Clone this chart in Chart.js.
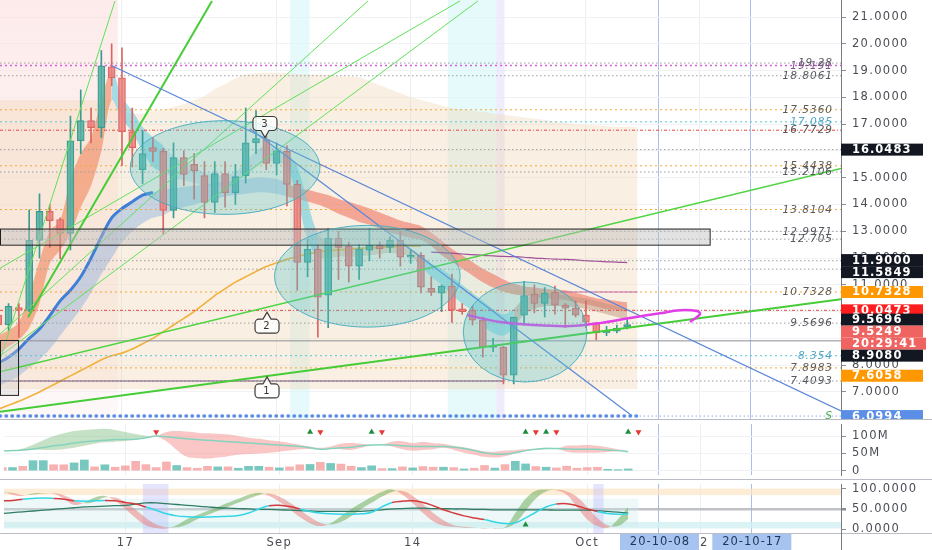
<!DOCTYPE html>
<html>
<head>
<meta charset="utf-8">
<title>chart</title>
<script src="https://cdn.jsdelivr.net/npm/chart.js@4.4.1/dist/chart.umd.min.js"></script>
<style>
  html, body { margin: 0; padding: 0; background: #fff; }
  #wrap { position: relative; width: 932px; height: 550px; overflow: hidden; background: #fff; }
  canvas { position: absolute; left: 0; }
  .hl { position: absolute; left: 0; width: 932px; height: 1px; background: #b9bcc4; }
  .vl { position: absolute; left: 841px; width: 1px; background: #787b86; }
</style>
</head>
<body>
<div id="wrap">
  <canvas id="main" width="932" height="419" style="top:0"></canvas>
  <canvas id="vol" width="932" height="59" style="top:420px"></canvas>
  <canvas id="osc" width="932" height="70" style="top:480px"></canvas>
  <div class="hl" style="top:419px"></div>
  <div class="hl" style="top:479px"></div>
  <div class="hl" style="top:533px"></div>
  <div class="vl" style="top:533px;height:17px"></div>
</div>
<script>
// ---------- data (one candle per day, index 0 = Aug 5) ----------
const opens  = [9.87,9.5,10.15,10.05,12.66,13.74,13.44,12.92,16.38,17.13, 16.87,19.14,18.73,16.72,15.3,16.12,15.98,13.78,15.75,15.5, 15.08,14.08,15.15,14.44,15.08,16.3,16.42,15.53,15.98,14.75, 11.84,12.33,10.61,12.74,12.44,11.7,12.29,12.47,12.4,12.66, 12.03,12.1,10.87,10.69,10.95,10.1,10.05,9.68,8.66,8.68, 7.63,9.87,10.65,10.31,10.72,10.24,10.13,9.87,9.57,9.2, 9.27,9.42];
const highs  = [10.0,10.3,10.3,13.8,14.4,14.0,13.5,17.3,18.28,17.6, 19.75,20.0,19.85,17.6,16.76,16.5,16.1,16.3,16.0,15.9, 15.6,15.6,15.6,15.5,17.6,17.5,16.6,16.3,16.2,14.9, 12.7,12.5,13.1,13.0,12.6,12.5,13.1,12.6,12.8,13.0, 12.3,12.2,11.3,11.0,11.4,10.3,10.2,9.8,9.0,8.7, 9.8,11.13,11.0,10.9,10.95,10.3,10.4,10.4,9.6,9.45, 9.5,9.7];
const lows   = [9.3,9.3,9.05,10.0,12.0,12.4,11.98,12.3,15.9,16.3, 16.5,18.43,15.45,15.4,14.78,15.6,12.9,13.5,14.7,14.2, 13.5,13.7,13.9,14.0,14.8,15.9,15.3,15.1,13.95,10.8, 11.3,9.05,9.4,11.2,11.1,11.2,11.9,12.0,12.2,11.7, 11.8,10.7,10.6,10.0,9.6,9.9,9.5,8.3,8.5,7.3, 7.3,9.5,9.95,9.8,9.9,9.4,9.8,9.4,8.95,9.1, 9.2,9.35];
const closes = [9.5,10.2,10.05,12.66,13.74,13.4,12.92,16.38,17.13,16.87, 19.18,18.73,16.72,16.12,15.9,15.98,13.78,15.75,15.12,15.25, 14.08,15.15,14.44,15.04,16.3,16.46,15.53,16.0,14.75,11.84, 12.33,10.54,12.74,12.4,11.7,12.33,12.47,12.35,12.66,12.03, 12.1,10.91,10.72,10.95,10.05,10.0,9.68,8.68,8.7,7.63, 9.79,10.6,10.31,10.69,10.24,10.13,9.87,9.61,9.2,9.27, 9.38,9.52];

// moving average ribbons (price)
const slowUpper = [8.08,8.3,8.6,9.0,9.35,9.85,10.4,10.8,11.3,12.0, 12.8,13.5,13.85,14.1,14.35,14.45,14.55,14.6,14.65,14.7, 14.75,14.8,14.85,14.9,14.95,15.0,15.0,14.95,14.8,14.6, 14.55,14.45,14.35,14.2,14.1,13.98,13.85,13.7,13.55,13.4, 13.3,13.2,12.95,12.65,12.35,12.1,11.85,11.6,11.4,11.2, 11.05,10.95,10.9,10.85,10.82,10.8,10.7,10.6,10.5,10.45, 10.4,10.35];
const slowLower = [7.2,7.4,7.6,7.9,8.2,8.6,9.1,9.6,10.1,10.7, 11.4,12.0,12.6,13.0,13.3,13.5,13.6,13.8,13.9,14.0, 14.1,14.2,14.3,14.35,14.4,14.45,14.45,14.4,14.3,14.2, 14.1,14.0,13.85,13.65,13.5,13.35,13.25,13.1,12.95,12.85, 12.75,12.68,12.45,12.1,11.85,11.6,11.35,11.1,10.9,10.75, 10.65,10.6,10.55,10.5,10.47,10.43,10.35,10.27,10.18,10.1, 10.05,10.0];
const fastUpper = [9.1,9.3,9.6,10.6,11.9,13.0,13.4,14.9,15.9,16.5, 17.9,19.0,18.0,17.5,16.9,16.5,16.2,15.8,15.6,15.4, 15.2,15.1,15.1,15.2,15.6,16.0,16.2,16.1,15.9,15.4, 14.1,12.9,12.6,12.5,12.45,12.4,12.45,12.45,12.5,12.45, 12.35,12.1,11.8,11.6,11.3,11.0,10.7,10.4,10.1,9.9, 10.1,10.5,10.6,10.65,10.65,10.6,10.55,10.5,10.4,10.3, 10.2,10.1];
const fastLower = [8.4,8.7,8.95,9.4,10.3,11.8,12.3,12.9,13.9,14.7, 16.0,17.9,17.2,16.7,16.0,15.4,15.2,15.0,14.9,14.8, 14.7,14.7,14.7,14.8,15.0,15.4,15.6,15.6,15.4,14.2, 12.7,12.0,12.0,12.05,12.05,12.05,12.1,12.15,12.2,12.15, 12.05,11.7,11.3,11.0,10.6,10.3,10.0,9.5,9.2,9.1, 9.4,9.9,10.1,10.2,10.2,10.2,10.15,10.1,10.0,9.9, 9.8,9.7];
const orangeMA = [6.35,6.5,6.65,6.82,7.0,7.2,7.4,7.6,7.8,8.0, 8.2,8.35,8.45,8.6,8.8,9.0,9.25,9.5,9.75,10.0, 10.3,10.6,10.85,11.1,11.3,11.5,11.68,11.82,11.95,12.05, 12.15,12.22,12.28,12.3,12.33,12.36,12.38,12.4,12.42,12.44, 12.45,12.45];
const purpleStart = 42;
const purpleMA = [12.22,12.2,12.18,12.15,12.13,12.1,12.08,12.06,12.05,12.03, 12.0,11.98,11.96,11.95,11.93,11.9,11.88,11.86,11.85,11.83];
const beigeTop = [17.9,17.9,17.9,17.9,17.9,17.9,17.9,17.9,17.9,17.9, 17.9,17.9,17.5,17.4,17.4,17.5,17.55,17.65,17.75,17.9, 18.05,18.3,18.5,18.7,18.85,18.9,18.92,18.92,18.9,18.88, 18.86,18.85,18.83,18.8,18.78,18.75,18.6,18.45,18.3,18.15, 18.0,17.9,17.8,17.7,17.6,17.55,17.5,17.45,17.4,17.35, 17.3,17.25,17.2,17.15,17.1,17.05,17.0,16.98,16.95,16.93, 16.9,16.9,16.88];

// horizontal levels
const levelValues = [19.28, 19.191, 18.8061, 17.536, 17.085, 16.7729, 16.0483, 15.4438, 15.2106, 13.8104, 12.9971, 12.705, 11.9, 11.5849, 10.7328, 10.0473, 9.5696, 8.354, 7.8983, 7.4093];
const levelTexts  = ['19.28', '19.191', '18.8061', '17.5360', '17.085', '16.7729', '', '15.4438', '15.2106', '13.8104', '12.9971', '12.705', '', '', '10.7328', '', '9.5696', '8.354', '7.8983', '7.4093'];
const levelKinds  = ['g', 'm', 'g', 'o', 'c', 'r', 'g', 'o', 'g', 'o', 'g', 'g', 'g', 'g', 'o', 'r', 'g', 'c', 'o', 'g'];
const supportLevel = 6.0994;
const pivotLevel = 8.908;

// price labels on the axis
const axisValues = [16.0483, 11.9, 11.5849, 10.7328, 10.0473, 9.5696, 9.5249, 8.908, 7.6058, 6.0994];
const axisKinds  = ['k', 'k', 'k', 'o', 'r', 'k', 'p', 'k', 'o', 'b'];
const countdownText = '20:29:41';

// drawings: trend lines [day0, price0, day1, price1]
const blueTrends  = [[11.03, 19.18, 81.74, 6.29], [24.42, 16.83, 61.47, 6.11]];
const greenThick  = [[0.17, 6.26, 81.74, 10.46], [2.89, 9.79, 20.73, 21.6]];
const greenMid    = [[0.17, 7.75, 81.74, 15.34]];
const greenThin   = [[0.17, 8.19, 11.32, 21.6], [0.17, 9.16, 35.86, 21.6], [0.17, 11.62, 44.79, 21.6], [0.17, 8.34, 46.53, 21.6]];
const magentaX = [45.47, 48.67, 51.87, 55.46, 58.37, 61.28, 64.19, 66.13, 67.77, 68.07, 67.1];
const magentaY = [9.87, 9.61, 9.50, 9.46, 9.57, 9.76, 9.94, 10.05, 10.02, 9.91, 9.61];
const zoneX  = [22.0, 35.8, 51.1];
const zoneY  = [15.38, 11.32, 9.24];
const zoneRX = [9.2, 9.0, 6.0];
const zoneRY = [1.75, 1.9, 1.87];
const boxes = [[0.17, 12.5, 69.0, 13.1], [0.17, 6.89, 1.92, 8.94]];
const calloutX = [25.87, 26.07, 26.07];
const calloutY = [16.5, 9.98, 7.56];
const calloutText = ['3', '2', '1'];
const calloutDown = [true, false, false];

// volume pane (millions)
const volumes = [9,9,12.5,29,29,17,17,22.5,31,11, 17,10,14,27,17.5,9,25,15,9,7, 12.5,11,11,7,12.5,12.5,10,8,11,17, 18,24,21,19,13,9,14,6,6,11, 8,12,10,10,9,5,7,15,7.5,17.5, 27,19.5,12,10,8,13,7,9,10,4, 3,5];
const volRise = [0,1,0,1,1,0,0,1,1,0, 1,0,0,0,0,0,0,1,0,0, 0,1,0,1,1,1,0,1,0,0, 1,0,1,0,0,1,1,0,1,0, 1,0,0,1,0,1,0,0,1,0, 1,1,0,1,0,0,0,0,0,1, 1,1];
const cloudA = [57,58,64,75,88,100,108,115,118,120, 121,118,112,106,101,99,85,60,40,36, 35,38,42,46,48,50,52,55,58,62, 63,62,64,62,60,66,74,75,70,62, 58,60,62,66,60,52,46,40,38,42, 50,56,63,66,64,55,52,52,52,54, 56,55];
const cloudB = [57,58,58,60,60,60,62,66,72,78, 82,84,86,90,96,100,112,115,113,110, 108,107,105,100,95,92,88,85,80,75, 70,66,70,78,80,78,75,76,84,85, 80,84,80,78,72,68,62,56,55,58, 60,62,61,63,64,72,73,74,72,68, 62,57];
const volMid = [57,58,60,63,67,72,75,80,84,86, 88,90,90,91,95,100,98,95,92,90, 88,86,84,82,80,78,76,74,72,70, 66,62,64,66,68,72,74,75,74,72, 70,70,70,70,68,64,58,52,48,48, 52,58,62,64,64,63,62,62,62,60, 58,55];
const signalUp = [30, 36, 51, 53, 61];
const signalDown = [15, 31, 37, 52, 54, 62];
const signalLevel = 112;
const volTicks = [0, 50, 100];

// oscillator pane
const stochK = [93,85,82,88,89,88,75,60,65,78, 82,70,50,28,10,3,2,10,25,35, 45,55,65,75,85,90,82,68,50,30, 15,8,15,32,50,65,80,92,98,85, 64,40,20,9,6,4,3,2,3,5, 40,75,95,98,96,85,55,25,8,4, 25,55];
const stochD = [90,90,84,85,88,89,84,72,64,68, 78,78,66,48,28,12,5,5,12,25, 35,45,55,65,75,84,88,80,66,48, 30,16,12,18,32,50,65,80,92,94, 82,62,40,22,10,6,4,3,2,3, 15,45,75,93,97,93,80,55,28,10, 8,25];
const oscLine = [70,71,74,76,77,76,74,70,69,70, 71,70,66,62,55,47,38,33,31,30, 30,31,32,34,40,50,58,59,56,50, 44,40,38,37,37,38,42,55,66,69, 70,66,58,48,40,33,28,24,18,14, 16,28,42,55,62,63,58,50,44,39, 37,38];
const oscSlow = [39,41,43,45,47,49,51,53,55,56, 57,58,59,62,65,65,63,61,59,57, 55,53,52,51,50,49,49,48,47,46, 45,44,44,44,44,44,46,48,50,51, 52,52,51,51,50,50,49,49,48,48, 48,48,48,48,47,47,47,47,46,44, 42,40];
const oscRedSpans = [[0, 2], [5, 7], [10, 14], [26, 29], [38, 47], [54, 58]];
const oscSignalUp = [51];
const oscSignalLevel = 11;
const oscTicks = [0, 50, 100];

// time axis
const dateTicks = [12, 27, 40, 57, 64, 68, 73];
const dateLabels = ['17', 'Sep', '14', 'Oct', '20-10-08', '12', '20-10-17'];
const markedDates = [64, 73];
const priceTicks = [7, 8, 9, 10, 11, 12, 13, 14, 15, 16, 17, 18, 19, 20, 21];

// ---------- helpers ----------
const xMin = 0.17, xMax = 81.74;
const FONT = 'DejaVu Sans';
const UP = 'rgba(84,176,163,0.82)', UP_EDGE = '#3b998e', DN = 'rgba(236,130,128,0.82)', DN_EDGE = '#da6663';
const NONE = 'rgba(0,0,0,0)';

Chart.defaults.font.family = FONT;
Chart.defaults.animation = false;
Chart.defaults.events = [];
Chart.defaults.plugins.legend.display = false;
Chart.defaults.plugins.tooltip.enabled = false;

const series = (vals, start = 0) => vals.map((v, i) => ({x: i + start, y: v}));
const seg = (x0, y0, x1, y1) => [{x: x0, y: y0}, {x: x1, y: y1}];
function lineDs(data, color, width, extra) {
  return Object.assign({type: 'line', data, borderColor: color, borderWidth: width,
    pointRadius: 0, fill: false, tension: 0}, extra || {});
}

const tickFont = {family: FONT, size: 11.5};
function xScale(showLabels) {
  return {
    type: 'linear', min: xMin, max: xMax, offset: false,
    afterBuildTicks: s => { s.ticks = dateTicks.map(v => ({value: v})); },
    ticks: {
      display: showLabels, autoSkip: false, maxRotation: 0, padding: 3, color: '#4a4d55', font: tickFont,
      callback: v => markedDates.includes(v) ? '' : dateLabels[dateTicks.indexOf(v)]
    },
    grid: {offset: false, drawTicks: false, lineWidth: 1,
      color: c => (c.tick && markedDates.includes(c.tick.value)) ? '#a6c0ea' : '#eceef2'},
    border: {display: showLabels, color: '#c5c7cc'},
    afterFit: s => { s.height = showLabels ? 17 : 0; s.paddingLeft = 0; s.paddingRight = 0; }
  };
}
function yScale(min, max, ticks, fmt, gridColor, gridWidth) {
  return {
    position: 'right', min, max,
    afterBuildTicks: s => { s.ticks = ticks.map(v => ({value: v})); },
    ticks: {padding: 6, color: '#4a4d55', font: tickFont, callback: fmt},
    grid: {color: gridColor, lineWidth: gridWidth || 1, tickColor: '#8a8d93', tickLength: 5},
    border: {color: '#787b86'},
    afterFit: s => { s.width = 91; s.paddingTop = 0; s.paddingBottom = 0; }
  };
}
const spacing = {id: 'spacing', beforeDraw(chart) { chart.ctx.letterSpacing = '1.3px'; }};

// ---------- main pane ----------
const levelStyle = {
  g: {line: '#9c9ea4', text: '#55585e', dash: [1.5, 2.5]},
  m: {line: '#d65ee0', text: '#7a5a84', dash: [2, 3]},
  o: {line: '#f3a73a', text: '#5e5a52', dash: [2, 3]},
  c: {line: '#55c6d8', text: '#56a4c4', dash: [2, 3]},
  r: {line: '#e54848', text: '#5e5252', dash: [3, 2, 1, 2]}
};
const axisStyle = {
  k: ['#131722', '#ffffff'], o: ['#ff9800', '#ffffff'], r: ['#ff1e1e', '#ffffff'],
  p: ['#ef6461', '#ffffff'], b: ['#5b8ee6', '#ffffff']
};
function fastFill(i) {
  if (i < 11) return 'rgba(243,150,112,0.72)';
  if (i < 16) return 'rgba(108,205,224,0.6)';
  if (i < 28) return 'rgba(150,198,214,0.35)';
  if (i < 31) return 'rgba(108,205,224,0.6)';
  if (i < 41) return 'rgba(205,175,140,0.45)';
  if (i < 50) return 'rgba(108,205,224,0.55)';
  return 'rgba(190,150,128,0.5)';
}

const rising = opens.map((o, i) => closes[i] >= o);
const mainSets = [];
mainSets.push(lineDs(series(beigeTop), NONE, 0, {fill: {value: 7.1}, backgroundColor: 'rgba(240,214,178,0.38)', order: 300, tension: 0.4}));
mainSets.push(lineDs(series(slowUpper), NONE, 0, {fill: '+1', order: 250, tension: 0.3,
  segment: {backgroundColor: c => c.p0DataIndex < 28 ? 'rgba(96,150,222,0.32)' : 'rgba(240,118,98,0.6)'}}));
mainSets.push(lineDs(series(slowLower), NONE, 0, {order: 250, tension: 0.3}));
mainSets.push(lineDs(series(fastUpper), NONE, 0, {fill: '+1', order: 240, tension: 0.3,
  segment: {backgroundColor: c => fastFill(c.p0DataIndex)}}));
mainSets.push(lineDs(series(fastLower), NONE, 0, {order: 240, tension: 0.3}));
mainSets.push(lineDs(series(slowUpper.slice(0, 16)), '#3f7fd8', 3, {order: 230, tension: 0.3}));
mainSets.push(lineDs(series(orangeMA), '#f2b13c', 1.6, {order: 229, tension: 0.3}));
mainSets.push(lineDs(series(purpleMA, purpleStart), '#a24f9a', 1.2, {order: 228, tension: 0.3}));
levelValues.forEach((v, i) => {
  const st = levelStyle[levelKinds[i]];
  mainSets.push(lineDs(seg(xMin, v, xMax, v), st.line, levelKinds[i] === 'm' ? 1.6 : 1, {borderDash: st.dash, order: 200}));
});
mainSets.push(lineDs(seg(xMin, pivotLevel, xMax, pivotLevel), '#8d8f96', 1, {order: 199}));
mainSets.push(lineDs(seg(xMin, 7.4093, 49, 7.4093), '#7b5a86', 1.2, {order: 199}));
mainSets.push(lineDs(seg(54.5, 10.7328, 62, 10.7328), '#c06ab8', 1.2, {order: 199}));
mainSets.push(lineDs(seg(xMin, supportLevel, 62.2, supportLevel), '#5d8fe6', 3.5, {borderDash: [0.5, 5.5], borderCapStyle: 'round', order: 198}));
mainSets.push(lineDs(seg(62.2, supportLevel, xMax, supportLevel), '#8fb0ec', 1, {borderDash: [1.5, 2.5], order: 198}));
mainSets.push({type: 'bar', data: opens.map((o, i) => ({x: i, y: [lows[i], highs[i]]})),
  backgroundColor: rising.map(r => r ? UP_EDGE : DN_EDGE), barThickness: 1, grouped: false, order: 50});
mainSets.push({type: 'bar', data: opens.map((o, i) => ({x: i, y: [o, closes[i]]})),
  backgroundColor: rising.map(r => r ? UP : DN), borderColor: rising.map(r => r ? UP_EDGE : DN_EDGE),
  borderWidth: 1, borderSkipped: false, barThickness: 7, grouped: false, order: 49});
blueTrends.forEach(t => mainSets.push(lineDs(seg(...t), '#5a86d8', 1.2, {order: 20})));
greenThick.forEach(t => mainSets.push(lineDs(seg(...t), '#45cc37', 2, {order: 21})));
greenMid.forEach(t => mainSets.push(lineDs(seg(...t), '#4fd443', 1.5, {order: 21})));
greenThin.forEach(t => mainSets.push(lineDs(seg(...t), '#62e05a', 1, {order: 22})));
mainSets.push(lineDs(magentaX.map((x, i) => ({x, y: magentaY[i]})), '#e23ee8', 2.5, {order: 10, tension: 0.35}));

function callout(ctx, px, py, label, down) {
  const w = 24, h = 14, g = 7, r = 4;
  const top = down ? py - g - h : py + g;
  const left = px - w / 2, right = px + w / 2, bot = top + h;
  ctx.beginPath();
  ctx.moveTo(left + r, top);
  if (!down) { ctx.lineTo(px - 4, top); ctx.lineTo(px, py); ctx.lineTo(px + 4, top); }
  ctx.lineTo(right - r, top);
  ctx.arcTo(right, top, right, top + r, r);
  ctx.lineTo(right, bot - r);
  ctx.arcTo(right, bot, right - r, bot, r);
  if (down) { ctx.lineTo(px + 4, bot); ctx.lineTo(px, py); ctx.lineTo(px - 4, bot); }
  ctx.lineTo(left + r, bot);
  ctx.arcTo(left, bot, left, bot - r, r);
  ctx.lineTo(left, top + r);
  ctx.arcTo(left, top, left + r, top, r);
  ctx.closePath();
  ctx.fillStyle = 'rgba(255,255,255,0.8)';
  ctx.fill();
  ctx.strokeStyle = '#3b3b3b';
  ctx.lineWidth = 1.2;
  ctx.stroke();
  ctx.fillStyle = '#333';
  ctx.font = '10px ' + FONT;
  ctx.textAlign = 'center';
  ctx.textBaseline = 'middle';
  ctx.fillText(label, px, top + h / 2 + 0.5);
}

const mainDecor = {
  id: 'mainDecor',
  beforeDatasetsDraw(chart) {
    const {ctx, chartArea: a, scales: {x}} = chart;
    ctx.save();
    const pink = ctx.createLinearGradient(0, a.top, 0, a.bottom);
    pink.addColorStop(0, 'rgba(252,222,222,0.6)');
    pink.addColorStop(1, 'rgba(252,230,230,0.3)');
    ctx.fillStyle = pink;
    ctx.fillRect(a.left, a.top, x.getPixelForValue(11.6) - a.left, a.bottom - a.top);
    ctx.fillStyle = 'rgba(220,248,250,0.7)';
    ctx.fillRect(x.getPixelForValue(43.6), a.top, x.getPixelForValue(48.3) - x.getPixelForValue(43.6), a.bottom - a.top);
    ctx.fillRect(x.getPixelForValue(28.3), a.top, x.getPixelForValue(30.2) - x.getPixelForValue(28.3), a.bottom - a.top);
    ctx.fillStyle = 'rgba(232,228,252,0.7)';
    ctx.fillRect(x.getPixelForValue(48.3), a.top, x.getPixelForValue(49.1) - x.getPixelForValue(48.3), a.bottom - a.top);
    ctx.restore();
  },
  afterDatasetsDraw(chart) {
    const {ctx, scales: {x, y}} = chart;
    ctx.save();
    boxes.forEach(([x0, y0, x1, y1], i) => {
      const l = x.getPixelForValue(x0), r = x.getPixelForValue(x1);
      const t = y.getPixelForValue(y1), b = y.getPixelForValue(y0);
      ctx.fillStyle = i === 0 ? 'rgba(190,190,190,0.45)' : 'rgba(205,205,205,0.35)';
      ctx.fillRect(l, t, r - l, b - t);
      ctx.strokeStyle = '#1f1f1f';
      ctx.lineWidth = 1;
      ctx.strokeRect(l + 0.5, t + 0.5, r - l, b - t);
    });
    zoneX.forEach((cx, i) => {
      const px = x.getPixelForValue(cx), py = y.getPixelForValue(zoneY[i]);
      const rx = x.getPixelForValue(cx + zoneRX[i]) - px;
      const ry = py - y.getPixelForValue(zoneY[i] + zoneRY[i]);
      ctx.beginPath();
      ctx.ellipse(px, py, rx, ry, 0, 0, Math.PI * 2);
      ctx.fillStyle = 'rgba(92,198,200,0.33)';
      ctx.fill();
      ctx.strokeStyle = 'rgba(70,170,190,0.9)';
      ctx.lineWidth = 1;
      ctx.stroke();
    });
    calloutX.forEach((cx, i) => callout(ctx, x.getPixelForValue(cx), y.getPixelForValue(calloutY[i]), calloutText[i], calloutDown[i]));
    ctx.restore();
  },
  afterDraw(chart) {
    const {ctx, chartArea: a, scales: {y}} = chart;
    ctx.save();
    ctx.letterSpacing = '1px';
    ctx.font = 'italic 10.5px ' + FONT;
    ctx.textAlign = 'right';
    ctx.textBaseline = 'middle';
    levelValues.forEach((v, i) => {
      if (!levelTexts[i]) return;
      ctx.fillStyle = levelStyle[levelKinds[i]].text;
      ctx.fillText(levelTexts[i], a.right - 8, y.getPixelForValue(v) + 0.5);
    });
    ctx.fillStyle = '#3fae3f';
    ctx.fillText('S', a.right - 8, y.getPixelForValue(supportLevel));

    // axis price labels with simple collision handling
    const h = 12;
    const items = axisValues.map((v, i) => ({y0: y.getPixelForValue(v), text: v.toFixed(4), kind: axisKinds[i], w: 82}));
    const cd = items.find(it => it.kind === 'p');
    items.push({y0: cd.y0 + h, text: countdownText, kind: 'p', w: 85});
    items.sort((p, q) => p.y0 - q.y0);
    items.forEach((it, i) => {
      it.y = it.y0;
      if (i > 0 && it.y < items[i - 1].y + h) it.y = items[i - 1].y + h;
    });
    let group = [];
    const settle = () => {
      if (group.length < 2) { group = []; return; }
      const mean = group.reduce((s, it) => s + it.y - it.y0, 0) / group.length;
      group.forEach(it => { it.y -= mean * 0.35; });
      group = [];
    };
    items.forEach((it, i) => {
      if (i > 0 && it.y !== it.y0) group.push(it);
      else { settle(); group = [it]; }
    });
    settle();
    ctx.font = 'bold 11.5px ' + FONT;
    ctx.textAlign = 'left';
    items.forEach(it => {
      const [bg, fg] = axisStyle[it.kind];
      ctx.fillStyle = bg;
      ctx.fillRect(a.right, it.y - h / 2, it.w, h);
      ctx.fillStyle = fg;
      ctx.fillText(it.text, a.right + 11, it.y + 0.5);
    });
    ctx.restore();
  }
};

new Chart(document.getElementById('main'), {
  type: 'line',
  data: {datasets: mainSets},
  options: {
    responsive: false,
    layout: {padding: 0},
    scales: {
      x: xScale(false),
      y: yScale(5.99, 21.635, priceTicks, v => v.toFixed(4), '#f2f2f4')
    }
  },
  plugins: [spacing, mainDecor]
});

// ---------- volume pane ----------
const volSets = [
  lineDs(series(cloudA), NONE, 0, {fill: {target: 1, above: 'rgba(118,186,118,0.42)', below: 'rgba(244,128,128,0.45)'}, order: 100, tension: 0.4}),
  lineDs(series(cloudB), NONE, 0, {order: 100, tension: 0.4}),
  lineDs(series(volMid), '#86d3bd', 1.5, {order: 90, tension: 0.4}),
  {type: 'bar', data: series(volumes), backgroundColor: volRise.map(r => r ? 'rgba(38,166,154,0.62)' : 'rgba(239,100,98,0.5)'),
    barThickness: 8, grouped: false, order: 50},
  lineDs(signalUp.map(x => ({x, y: signalLevel})), NONE, 0, {showLine: false, pointRadius: 3.5, pointStyle: 'triangle',
    pointBackgroundColor: '#1e8e3e', pointBorderWidth: 0, order: 1}),
  lineDs(signalDown.map(x => ({x, y: signalLevel})), NONE, 0, {showLine: false, pointRadius: 3.5, pointStyle: 'triangle',
    pointRotation: 180, pointBackgroundColor: '#e53935', pointBorderWidth: 0, order: 1})
];
new Chart(document.getElementById('vol'), {
  type: 'line',
  data: {datasets: volSets},
  options: {
    responsive: false,
    layout: {padding: 0},
    scales: {
      x: xScale(false),
      y: yScale(-12.5, 135, volTicks, v => v === 0 ? '0' : v + 'M', '#f2f2f4')
    }
  },
  plugins: [spacing]
});

// ---------- oscillator pane ----------
const isRed = i => oscRedSpans.some(([s, e]) => i >= s && i < e);
const oscSets = [
  lineDs(series(stochK), NONE, 0, {fill: {target: 1, above: 'rgba(112,176,92,0.55)', below: 'rgba(236,120,120,0.5)'}, order: 100, tension: 0.4}),
  lineDs(series(stochD), NONE, 0, {order: 100, tension: 0.4}),
  lineDs(series(oscSlow), '#2f7d64', 1.3, {order: 51, tension: 0.4}),
  lineDs(series(oscLine), '#33d6e6', 1.5, {order: 50, tension: 0.4,
    segment: {borderColor: c => isRed(c.p0DataIndex) ? '#d23c3c' : '#33d6e6'}}),
  lineDs(oscSignalUp.map(x => ({x, y: oscSignalLevel})), NONE, 0, {showLine: false, pointRadius: 3.5, pointStyle: 'triangle',
    pointBackgroundColor: '#1e8e3e', pointBorderWidth: 0, order: 1})
];
const oscDecor = {
  id: 'oscDecor',
  beforeDatasetsDraw(chart) {
    const {ctx, chartArea: a, scales: {x, y}} = chart;
    ctx.save();
    ctx.fillStyle = 'rgba(253,230,196,0.7)';
    ctx.fillRect(a.left, y.getPixelForValue(100), a.right - a.left, y.getPixelForValue(84) - y.getPixelForValue(100));
    ctx.fillStyle = 'rgba(210,240,242,0.8)';
    ctx.fillRect(a.left, y.getPixelForValue(18), a.right - a.left, y.getPixelForValue(2) - y.getPixelForValue(18));
    ctx.fillStyle = 'rgba(205,236,238,0.35)';
    ctx.fillRect(a.left, y.getPixelForValue(75), x.getPixelForValue(62) - a.left, y.getPixelForValue(5) - y.getPixelForValue(75));
    ctx.fillStyle = 'rgba(190,190,250,0.4)';
    [[13.7, 16.2], [57.6, 58.6]].forEach(([s, e]) => {
      ctx.fillRect(x.getPixelForValue(s), a.top, x.getPixelForValue(e) - x.getPixelForValue(s), a.bottom - a.top);
    });
    ctx.restore();
  },
  afterDraw(chart) {
    const {ctx, chartArea: a, scales: {x}} = chart;
    ctx.save();
    ctx.letterSpacing = '1px';
    ctx.font = '11.5px ' + FONT;
    ctx.textAlign = 'center';
    ctx.textBaseline = 'middle';
    markedDates.forEach(d => {
      const px = x.getPixelForValue(d);
      ctx.fillStyle = '#a7c3f0';
      ctx.fillRect(px - 39, a.bottom + 1, 79, chart.height - a.bottom - 1);
      ctx.fillStyle = '#1d3557';
      ctx.fillText(dateLabels[dateTicks.indexOf(d)], px + 1, (a.bottom + chart.height) / 2 + 1);
    });
    ctx.restore();
  }
};
new Chart(document.getElementById('osc'), {
  type: 'line',
  data: {datasets: oscSets},
  options: {
    responsive: false,
    layout: {padding: 0},
    scales: {
      x: xScale(true),
      y: yScale(-9.1, 111.4, oscTicks, v => v.toFixed(4),
        c => (c.tick && c.tick.value === 50) ? 'rgba(175,178,184,0.8)' : NONE,
        c => (c.tick && c.tick.value === 50) ? 2.5 : 1)
    }
  },
  plugins: [spacing, oscDecor]
});
</script>
</body>
</html>
